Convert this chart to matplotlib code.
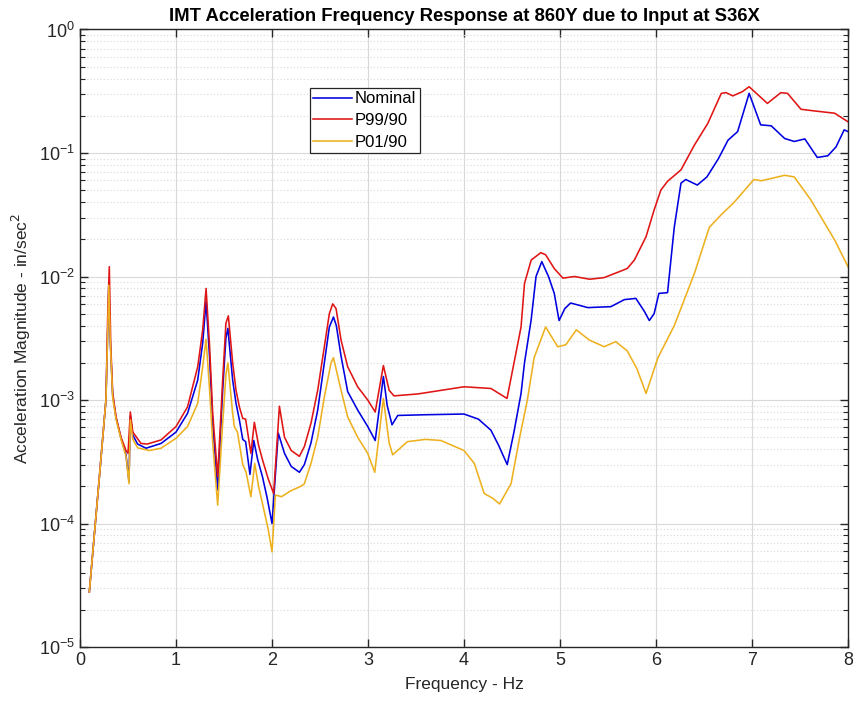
import matplotlib
matplotlib.use("Agg")
import matplotlib.pyplot as plt
from matplotlib.ticker import LogLocator, NullFormatter, MultipleLocator

plt.rcParams['font.family'] = ['Liberation Sans', 'DejaVu Sans']

# Nominal (blue)
nom_f = [0.097, 0.2, 0.27, 0.288, 0.30, 0.315, 0.34, 0.375, 0.427, 0.479, 0.51, 0.524, 0.55, 0.6,
         0.6875, 0.844, 1.0, 1.12, 1.226, 1.278, 1.313, 1.35, 1.382, 1.434, 1.486, 1.52, 1.54,
         1.59, 1.625, 1.66, 1.695, 1.725, 1.77, 1.81, 1.85, 1.9, 1.95, 2.0, 2.065, 2.13, 2.2,
         2.285, 2.337, 2.406, 2.476, 2.545, 2.597, 2.64, 2.67, 2.719, 2.788, 2.892, 2.997, 3.075,
         3.16, 3.2, 3.25, 3.31, 3.6, 4.0, 4.15, 4.28, 4.36, 4.45, 4.52, 4.594, 4.63, 4.70, 4.75,
         4.81, 4.88, 4.94, 4.99, 5.05, 5.11, 5.29, 5.53, 5.67, 5.79, 5.88, 5.93, 5.98, 6.03, 6.12,
         6.19, 6.26, 6.31, 6.43, 6.53, 6.65, 6.75, 6.85, 6.97, 7.09, 7.2, 7.34, 7.44, 7.55, 7.68,
         7.79, 7.875, 7.96, 8.0]
nom_a = [2.8e-5, 2.3e-4, 1.0e-3, 3.5e-3, 8.8e-3, 3.0e-3, 1.1e-3, 7.2e-4, 4.9e-4, 3.6e-4, 2.2e-4,
         7.4e-4, 5.2e-4, 4.4e-4, 4.07e-4, 4.45e-4, 5.5e-4, 7.8e-4, 1.45e-3, 2.9e-3, 6.3e-3,
         2.2e-3, 6.5e-4, 1.87e-4, 1.2e-3, 3.2e-3, 3.8e-3, 1.45e-3, 9.4e-4, 6.9e-4, 4.8e-4,
         4.6e-4, 2.5e-4, 4.7e-4, 3.3e-4, 2.4e-4, 1.6e-4, 1.0e-4, 5.4e-4, 3.7e-4, 2.9e-4, 2.6e-4,
         3.0e-4, 4.5e-4, 8.3e-4, 2.0e-3, 3.9e-3, 4.7e-3, 4.0e-3, 2.27e-3, 1.17e-3, 8.3e-4,
         6.1e-4, 4.7e-4, 1.55e-3, 9.0e-4, 6.3e-4, 7.5e-4, 7.6e-4, 7.7e-4, 7.0e-4, 5.7e-4, 4.3e-4,
         3.0e-4, 5.5e-4, 1.13e-3, 2.0e-3, 4.5e-3, 1.0e-2, 1.32e-2, 1.0e-2, 7.3e-3, 4.4e-3,
         5.5e-3, 6.1e-3, 5.6e-3, 5.7e-3, 6.5e-3, 6.65e-3, 5.2e-3, 4.4e-3, 5.0e-3, 7.3e-3, 7.4e-3,
         2.5e-2, 5.7e-2, 6.1e-2, 5.5e-2, 6.4e-2, 9.0e-2, 0.127, 0.149, 0.304, 0.169, 0.166, 0.131,
         0.124, 0.130, 0.092, 0.095, 0.112, 0.154, 0.149]

# P99/90 (red)
p99_f = [0.097, 0.2, 0.27, 0.288, 0.305, 0.32, 0.34, 0.375, 0.427, 0.479, 0.50, 0.524, 0.55,
         0.635, 0.7, 0.844, 1.0, 1.12, 1.226, 1.278, 1.313, 1.35, 1.382, 1.434, 1.486, 1.52,
         1.545, 1.59, 1.625, 1.66, 1.695, 1.725, 1.78, 1.816, 1.86, 1.9, 1.96, 2.017, 2.077, 2.13,
         2.2, 2.285, 2.337, 2.406, 2.476, 2.545, 2.597, 2.632, 2.667, 2.719, 2.788, 2.892, 2.997,
         3.075, 3.16, 3.22, 3.27, 3.52, 4.0, 4.28, 4.448, 4.594, 4.63, 4.70, 4.80, 4.85, 4.94,
         5.03, 5.15, 5.31, 5.46, 5.70, 5.775, 5.896, 5.98, 6.05, 6.12, 6.26, 6.4, 6.54, 6.68, 6.73,
         6.8, 6.9, 6.97, 7.16, 7.30, 7.37, 7.51, 7.65, 7.86, 8.0]
p99_a = [2.8e-5, 2.3e-4, 1.0e-3, 4.7e-3, 1.2e-2, 2.8e-3, 1.15e-3, 7.3e-4, 5.0e-4, 3.9e-4, 3.7e-4,
         8.0e-4, 5.5e-4, 4.45e-4, 4.4e-4, 4.75e-4, 6.1e-4, 8.8e-4, 1.86e-3, 3.7e-3, 8.0e-3,
         2.7e-3, 7.8e-4, 2.4e-4, 1.45e-3, 4.2e-3, 4.8e-3, 2.0e-3, 1.2e-3, 8.8e-4, 7.1e-4, 7.0e-4,
         3.7e-4, 6.6e-4, 4.3e-4, 3.3e-4, 2.3e-4, 1.75e-4, 8.9e-4, 5.0e-4, 3.9e-4, 3.5e-4, 4.2e-4,
         6.5e-4, 1.2e-3, 2.7e-3, 5.0e-3, 6.0e-3, 5.5e-3, 3.06e-3, 1.86e-3, 1.28e-3, 1.0e-3,
         8.0e-4, 1.9e-3, 1.2e-3, 1.08e-3, 1.12e-3, 1.28e-3, 1.24e-3, 1.03e-3, 3.9e-3, 8.8e-3,
         1.36e-2, 1.56e-2, 1.5e-2, 1.16e-2, 9.7e-3, 1.0e-2, 9.5e-3, 9.8e-3, 1.16e-2, 1.36e-2,
         2.1e-2, 3.45e-2, 5.0e-2, 5.9e-2, 7.3e-2, 0.116, 0.174, 0.304, 0.308, 0.29, 0.314, 0.344,
         0.252, 0.308, 0.304, 0.226, 0.219, 0.21, 0.179]

# P01/90 (yellow)
p01_f = [0.097, 0.2, 0.27, 0.288, 0.30, 0.315, 0.34, 0.375, 0.427, 0.479, 0.51, 0.524, 0.55, 0.6,
         0.72, 0.844, 1.0, 1.12, 1.226, 1.278, 1.313, 1.35, 1.382, 1.434, 1.486, 1.52, 1.54,
         1.59, 1.607, 1.64, 1.695, 1.73, 1.78, 1.82, 1.86, 1.9, 1.96, 2.0, 2.035, 2.1, 2.2, 2.3,
         2.337, 2.406, 2.476, 2.545, 2.615, 2.64, 2.719, 2.788, 2.892, 2.997, 3.07, 3.16, 3.22,
         3.257, 3.41, 3.6, 3.76, 4.0, 4.107, 4.21, 4.3, 4.37, 4.49, 4.58, 4.66, 4.73, 4.85, 4.976,
         5.06, 5.17, 5.305, 5.46, 5.58, 5.70, 5.80, 5.896, 6.02, 6.19, 6.4, 6.555, 6.677, 6.815,
         7.02, 7.1, 7.34, 7.44, 7.61, 7.86, 8.0]
p01_a = [2.8e-5, 2.3e-4, 1.0e-3, 3.4e-3, 8.5e-3, 3.0e-3, 1.05e-3, 7.0e-4, 4.8e-4, 3.5e-4, 2.1e-4,
         6.9e-4, 4.8e-4, 4.1e-4, 3.9e-4, 4.07e-4, 4.9e-4, 6.1e-4, 9.4e-4, 1.86e-3, 3.1e-3, 1.2e-3,
         4.5e-4, 1.41e-4, 6.5e-4, 1.6e-3, 2.0e-3, 7.8e-4, 6.1e-4, 5.5e-4, 3.0e-4, 2.6e-4, 1.65e-4,
         3.07e-4, 2.0e-4, 1.46e-4, 9.0e-5, 5.9e-5, 1.7e-4, 1.65e-4, 1.85e-4, 2.0e-4, 2.1e-4,
         3.07e-4, 5.0e-4, 1.06e-3, 2.0e-3, 2.2e-3, 1.2e-3, 7.3e-4, 5.0e-4, 3.7e-4, 2.6e-4,
         1.03e-3, 4.5e-4, 3.6e-4, 4.6e-4, 4.8e-4, 4.7e-4, 3.9e-4, 3.07e-4, 1.75e-4, 1.6e-4,
         1.44e-4, 2.1e-4, 5.0e-4, 1.0e-3, 2.2e-3, 3.9e-3, 2.7e-3, 2.8e-3, 3.7e-3, 3.06e-3, 2.7e-3,
         2.97e-3, 2.5e-3, 1.8e-3, 1.13e-3, 2.2e-3, 4.0e-3, 1.06e-2, 2.5e-2, 3.15e-2, 4.0e-2,
         6.1e-2, 5.96e-2, 6.6e-2, 6.4e-2, 4.2e-2, 1.98e-2, 1.2e-2]

labels = ["Nominal", "P99/90", "P01/90"]
colors = ["#0000e0", "#e01515", "#EDB120"]

fig = plt.figure(figsize=(8.54, 7.02), dpi=100)
ax = fig.add_axes([0.0937, 0.0783, 0.8993, 0.8797])

ax.plot(nom_f, nom_a, color=colors[0], lw=1.15, label=labels[0])
ax.plot(p99_f, p99_a, color=colors[1], lw=1.15, label=labels[1])
ax.plot(p01_f, p01_a, color=colors[2], lw=1.15, label=labels[2])

ax.set_yscale('log')
ax.set_xlim(0, 8)
ax.set_ylim(1e-5, 1)
ax.xaxis.set_major_locator(MultipleLocator(1))
ax.yaxis.set_major_locator(LogLocator(base=10, numticks=10))
ax.yaxis.set_minor_locator(LogLocator(base=10, subs=range(2, 10), numticks=100))
ax.yaxis.set_minor_formatter(NullFormatter())

ax.grid(True, which='major', color='#d9d9d9', lw=0.8, ls='-')
ax.grid(True, which='minor', axis='y', color='#d9d9d9', lw=0.8, ls=(0, (1, 2)))
ax.set_axisbelow(True)

ax.tick_params(which='both', direction='in', top=True, right=True, colors='#262626',
               labelsize=13)
ax.tick_params(which='major', length=6, width=1)
ax.tick_params(which='minor', length=3.5, width=0.8)
for s in ax.spines.values():
    s.set_color('#262626')
    s.set_linewidth(1.0)

ax.set_title("IMT Acceleration Frequency Response at 860Y due to Input at S36X",
             fontsize=13.3, fontweight='bold', pad=6)
ax.set_xlabel("Frequency - Hz", fontsize=12.5, color='#262626', labelpad=6)
ax.set_ylabel("Acceleration Magnitude - in/sec$^2$", fontsize=12.5, color='#262626', labelpad=4)

leg = ax.legend(loc='upper left', bbox_to_anchor=(0.2995, 0.905), borderaxespad=0,
                fontsize=12.0, handlelength=2.3, handletextpad=0.2, borderpad=0.2,
                labelspacing=0.4, fancybox=False, framealpha=1, edgecolor='#262626')
leg.get_frame().set_linewidth(0.9)

fig.savefig("out.png", dpi=100)
